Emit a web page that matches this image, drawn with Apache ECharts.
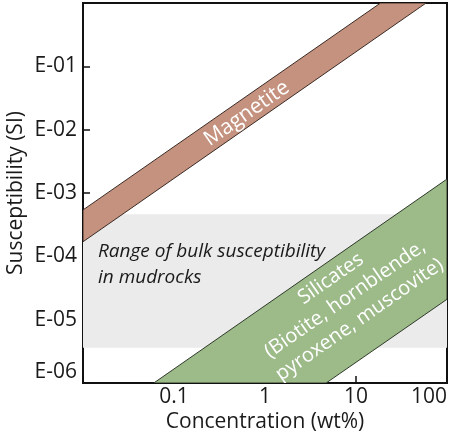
<!doctype html>
<html>
<head>
<meta charset="utf-8"/>
<title>susceptibility vs concentration</title>
<script src="https://cdn.jsdelivr.net/npm/echarts@6/dist/echarts.min.js"></script>
<style>
*{margin:0;padding:0;}
body{background:#ffffff;}
#main{width:454px;height:433px;}
</style>
</head>
<body>
<div id="main"></div>
<script type="text/javascript">

// axis ranges (log scales)
var xRange = [0.01, 100];
var yRange = [1e-6, 1];

// band outlines, [concentration wt%, susceptibility SI]
var mudrockRange = [[0.01, 3.6e-6], [100, 3.6e-6], [100, 4.6e-4], [0.01, 4.6e-4]];
var magnetiteBand = [[0.01, 5.4e-4], [18.6, 1], [58.9, 1], [0.01, 1.7e-4]];
var silicateBand = [[0.06, 1e-6], [100, 1.66e-3], [100, 2.1e-5], [4.7, 1e-6]];

// label anchors
var mudrockLabelAt = [0.0146, 7.4e-5];
var magnetiteLabelAt = [0.63, 0.018];
var silicateLabelAt = [7.6, 2.1e-5];

var FONT = '"Open Sans", "Noto Sans", sans-serif';

function angleOf(api, p0, p1) {
    var a = api.coord(p0), b = api.coord(p1);
    return Math.atan2(a[1] - b[1], b[0] - a[0]);
}

function bandSeries(points, fill, stroke, label) {
    return {
        type: 'custom',
        clip: true,
        silent: true,
        data: points,
        renderItem: function (params, api) {
            if (params.dataIndex !== 0) return null;
            var pts = points.map(function (p) { return api.coord(p); });
            var children = [{
                type: 'polygon',
                shape: {points: pts},
                style: {fill: fill, stroke: stroke, lineWidth: stroke ? 1 : 0}
            }];
            if (label) {
                var c = api.coord(label.at);
                children.push({
                    type: 'text',
                    x: c[0], y: c[1],
                    rotation: label.rotate ? angleOf(api, points[0], points[1]) : 0,
                    style: {
                        text: label.text,
                        fill: label.color,
                        fontSize: label.size,
                        fontStyle: label.italic ? 'italic' : 'normal',
                        fontFamily: FONT,
                        align: label.align || 'center',
                        verticalAlign: 'middle',
                        lineHeight: label.lineHeight || label.size
                    }
                });
            }
            return {type: 'group', children: children};
        }
    };
}

var chartDom = document.getElementById('main');
var myChart = echarts.init(chartDom);

var option = {
    animation: false,
    grid: {
        left: 83, right: 7, top: 3, bottom: 50,
        outerBoundsMode: 'none',
        containLabel: false,
        show: true, borderColor: '#111', borderWidth: 2
    },
    xAxis: {
        type: 'log',
        logBase: 10,
        min: xRange[0],
        max: xRange[1],
        name: 'Concentration (wt%)',
        nameLocation: 'middle',
        nameGap: 29,
        nameMoveOverlap: false,
        nameTextStyle: {fontSize: 21, fontFamily: FONT, color: '#1a1a1a'},
        axisLine: {lineStyle: {color: '#111', width: 2}},
        axisTick: {inside: true, length: 7, lineStyle: {color: '#111', width: 1.5}},
        minorTick: {show: false},
        splitLine: {show: false},
        axisLabel: {
            fontSize: 21, fontFamily: FONT, color: '#1a1a1a', margin: 4,
            alignMaxLabel: 'right',
            formatter: function (v) {
                if (v < 0.05) return '';
                return v < 1 ? String(Number(v.toFixed(2))) : String(Math.round(v));
            }
        }
    },
    yAxis: {
        type: 'log',
        logBase: 10,
        min: yRange[0],
        max: yRange[1],
        name: 'Susceptibility (SI)',
        nameLocation: 'middle',
        nameGap: 56,
        nameMoveOverlap: false,
        nameTextStyle: {fontSize: 21, fontFamily: FONT, color: '#1a1a1a'},
        axisLine: {lineStyle: {color: '#111', width: 2}},
        axisTick: {inside: true, length: 7, lineStyle: {color: '#111', width: 1.5}},
        minorTick: {show: false},
        splitLine: {show: false},
        axisLabel: {
            fontSize: 21, fontFamily: FONT, color: '#1a1a1a', margin: 6,
            verticalAlignMinLabel: 'bottom',
            formatter: function (v) {
                var e = Math.round(Math.log10(v));
                if (e >= 0) return '';
                return 'E-0' + (-e);
            }
        }
    },
    series: [
        bandSeries(mudrockRange, '#ebebeb', null, {
            text: 'Range of bulk susceptibility\nin mudrocks', at: mudrockLabelAt,
            color: '#1a1a1a', size: 19, italic: true, align: 'left', lineHeight: 26
        }),
        bandSeries(magnetiteBand, '#c4927e', '#3b2b25', {
            text: 'Magnetite', at: magnetiteLabelAt, color: '#ffffff', size: 21, rotate: true
        }),
        bandSeries(silicateBand, '#9cbb89', '#2f3a2a', {
            text: 'Silicates\n(Biotite, hornblende,\npyroxene, muscovite)', at: silicateLabelAt,
            color: '#ffffff', size: 20, rotate: true, lineHeight: 25
        })
    ]
};

myChart.setOption(option);

</script>
</body>
</html>
